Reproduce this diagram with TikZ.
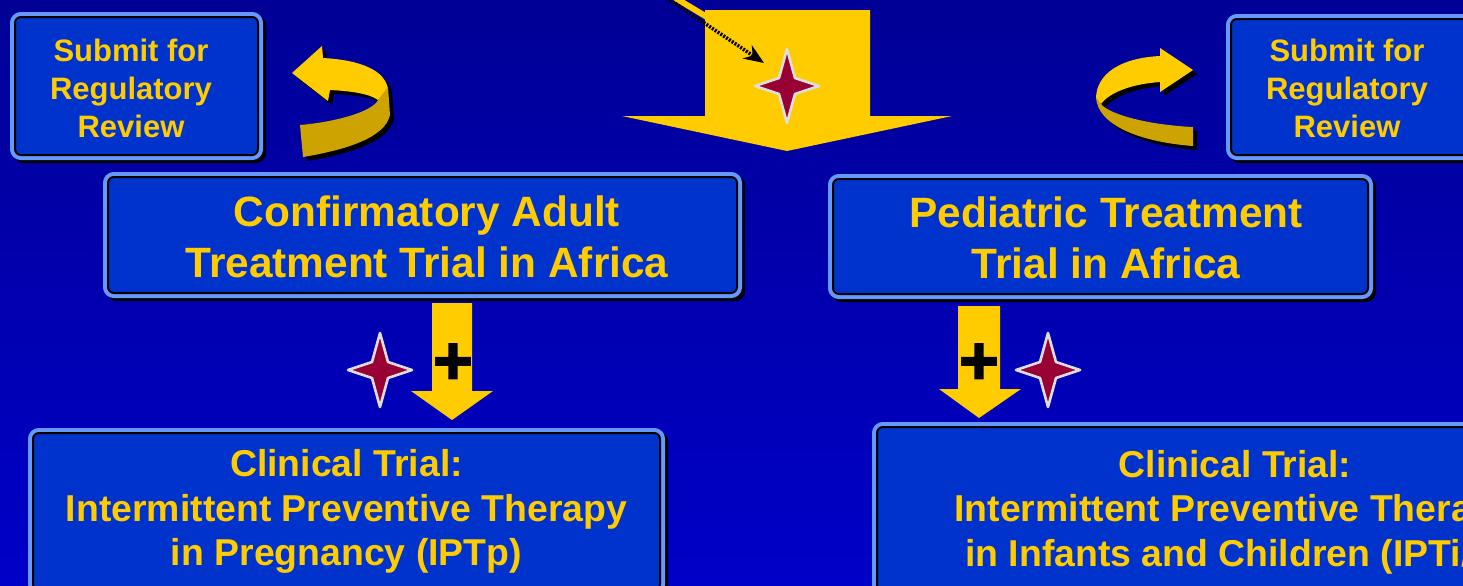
\documentclass[tikz,border=0pt]{standalone}
\usepackage{fontspec}
\setmainfont{Liberation Sans}
\newfontface\plusface{Liberation Sans Bold}[FakeBold=2.5]
\usetikzlibrary{arrows.meta}
\definecolor{bgtop}{RGB}{0,0,150}
\definecolor{bgbot}{RGB}{0,0,200}
\definecolor{boxblue}{RGB}{0,51,204}
\definecolor{edgeblue}{RGB}{102,153,255}
\definecolor{gold}{RGB}{255,204,0}
\definecolor{darkgold}{RGB}{204,163,0}
\definecolor{starred}{RGB}{153,0,51}
\definecolor{stargrey}{RGB}{221,221,221}
\tikzset{
  panel/.style={rectangle, rounded corners=3pt, inner sep=0pt, fill=boxblue,
    draw=black, line width=1pt, align=center, text=gold,
    preaction={draw=black, fill=black, line width=5pt, transform canvas={shift={(1.6pt,-1.6pt)}}},
    preaction={draw=edgeblue, line width=5pt}},
  paneltext/.style={inner sep=0pt, align=center, text=gold},
  smallfont/.style={font=\fontsize{15.5}{19}\selectfont\bfseries},
  bigfont/.style={font=\fontsize{21.2}{25.5}\selectfont\bfseries},
  midfont/.style={font=\fontsize{18.7}{22.25}\selectfont\bfseries},
  blockarrow/.style={fill=gold},
  plussign/.style={inner sep=0pt, text=black, font=\plusface\fontsize{34}{34}\selectfont},
  sparkle/.pic={\draw[line width=1.3pt, draw=stargrey, fill=starred, line join=round]
     (0,-37) -- (8,-8) -- (32,0) -- (8,8) -- (0,37) -- (-8,8) -- (-32,0) -- (-8,-8) -- cycle;}
}
\begin{document}
\begin{tikzpicture}[x=0.5pt,y=-0.5pt]
\path[use as bounding box, clip] (0,0) rectangle (1463,585);
\shade[top color=bgtop, bottom color=bgbot] (0,0) rectangle (1463,585);

% boxes
\node[panel, minimum width=121.5pt, minimum height=69pt] (subL) at (136.5,86) {};
\node[paneltext, smallfont] (subLtext) at (131,88) {Submit for\\Regulatory\\Review};
\node[panel, minimum width=160pt, minimum height=68pt] (subR) at (1391,87) {};
\node[paneltext, smallfont] (subRtext) at (1347,88) {Submit for\\Regulatory\\Review};
\node[panel, minimum width=314.5pt, minimum height=58pt] (conf) at (422.5,235) {};
\node[paneltext, bigfont] (conftext) at (427,237) {Confirmatory Adult\\Treatment Trial in Africa};
\node[panel, minimum width=267.5pt, minimum height=57.5pt] (ped) at (1100.5,236.5) {};
\node[paneltext, bigfont] (pedtext) at (1106,238) {Pediatric Treatment\\Trial in Africa};
\node[panel, midfont, minimum width=313.5pt, minimum height=78.5pt] (iptp) at (346.5,511.5) {Clinical Trial:\\Intermittent Preventive Therapy\\in Pregnancy (IPTp)};
\node[panel, midfont, minimum width=358pt, minimum height=85pt] (ipti) at (1235,512) {Clinical Trial:\\Intermittent Preventive Therapy\\in Infants and Children (IPTi/c)};

% big top arrow
\fill[blockarrow] (705,10) -- (870,10) -- (870,116) -- (952,116) -- (787,151) -- (622,116) -- (705,116) -- cycle;
\pic at (787,86) {sparkle};
\draw[gold, line width=3pt] (672,-4) -- (712,20);
\draw[black, line width=1.8pt, dash pattern=on 1pt off 0.7pt, -{Stealth[length=10pt,width=8pt]}] (664,-4) -- (764,63);

% small arrows
\fill[blockarrow] (432,303) -- (472,303) -- (472,391) -- (493,391) -- (452,420) -- (411,391) -- (432,391) -- cycle;
\node[plussign] (plusL) at (453,364) {+};
\pic at (380,370) {sparkle};
\fill[blockarrow] (958,306) -- (1000,306) -- (1000,389) -- (1021,389) -- (979,418) -- (939,389) -- (958,389) -- cycle;
\node[plussign] (plusR) at (979,364) {+};
\pic at (1048,370) {sparkle};

% curved arrow left (shadow then arrow)
\begin{scope}[shift={(4,4)}]
\fill[black] (292,73) -- (322,46) -- (323,58) .. controls (360,60) and (385,70) .. (388,89) -- (378,100) .. controls (370,94) and (352,91) .. (330,90) -- (328,101) -- cycle;
\fill[black] (388,87) -- (390,115) .. controls (385,138) and (345,150) .. (303,157) -- (300,125) .. controls (335,122) and (372,112) .. (378,100) -- cycle;
\end{scope}
\fill[gold] (292,73) -- (322,46) -- (323,58) .. controls (360,60) and (385,70) .. (388,89) -- (378,100) .. controls (370,94) and (352,91) .. (330,90) -- (328,101) -- cycle;
\fill[darkgold] (388,87) -- (390,115) .. controls (385,138) and (345,150) .. (303,157) -- (300,125) .. controls (335,122) and (372,112) .. (378,100) -- cycle;

% curved arrow right
\begin{scope}[shift={(4,4)}]
\fill[black] (1193,70) -- (1160,48) -- (1160,56) .. controls (1120,58) and (1096,74) .. (1096,99) -- (1101,104) .. controls (1110,92) and (1132,84) .. (1160,82) -- (1160,92) -- cycle;
\fill[black] (1096,97) .. controls (1097,125) and (1140,142) .. (1193,146) -- (1193,127) .. controls (1150,125) and (1110,115) .. (1101,104) -- cycle;
\end{scope}
\fill[gold] (1193,70) -- (1160,48) -- (1160,56) .. controls (1120,58) and (1096,74) .. (1096,99) -- (1101,104) .. controls (1110,92) and (1132,84) .. (1160,82) -- (1160,92) -- cycle;
\fill[darkgold] (1096,97) .. controls (1097,125) and (1140,142) .. (1193,146) -- (1193,127) .. controls (1150,125) and (1110,115) .. (1101,104) -- cycle;
\end{tikzpicture}
\end{document}
